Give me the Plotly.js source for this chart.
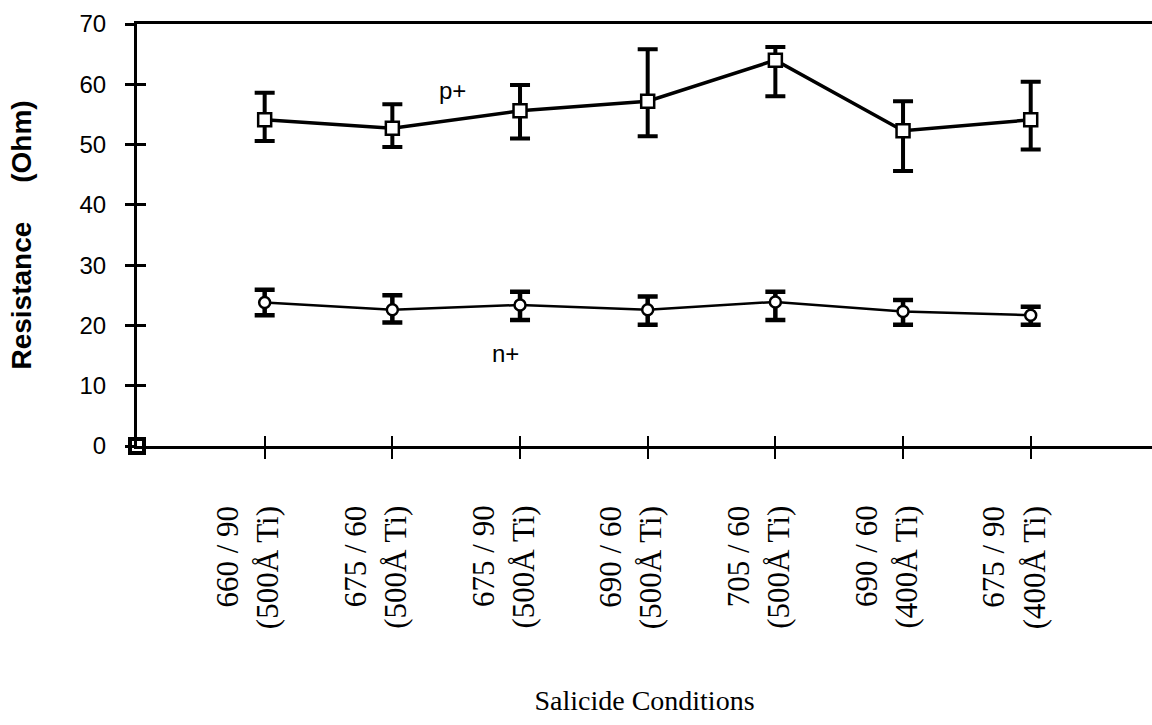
<!DOCTYPE html>
<html>
<head>
<meta charset="utf-8">
<script src="https://cdn.plot.ly/plotly-3.0.1.min.js"></script>
<style>html,body{margin:0;padding:0;background:#fff;}#chart{width:1152px;height:725px;}</style>
</head>
<body>
<div id="chart"></div>
<script>
// ---- data ----
const conditions = ['660 / 90', '675 / 60', '675 / 90', '690 / 60', '705 / 60', '690 / 60', '675 / 90'];
const tiThickness = ['(500Å Ti)', '(500Å Ti)', '(500Å Ti)', '(500Å Ti)', '(500Å Ti)', '(400Å Ti)', '(400Å Ti)'];
const pPlus     = [54.1, 52.7, 55.6, 57.2, 64.0, 52.3, 54.1];
const pPlusHigh = [58.6, 56.7, 59.9, 65.8, 66.2, 57.2, 60.4];
const pPlusLow  = [50.6, 49.6, 51.0, 51.4, 58.0, 45.6, 49.2];
const nPlus     = [23.8, 22.6, 23.4, 22.6, 23.9, 22.3, 21.7];
const nPlusHigh = [25.9, 25.0, 25.6, 24.8, 25.6, 24.2, 23.1];
const nPlusLow  = [21.7, 20.5, 20.9, 20.1, 20.9, 20.1, 20.1];
const originX = [0];
const originY = [0];
const yTicks = [0, 10, 20, 30, 40, 50, 60, 70];

// ---- build ----
const xPos = conditions.map((c, i) => i + 1);
const XR = [0, 7.95], YR = [0, 70];

const traces = [
  {
    x: xPos, y: pPlus, type: 'scatter', mode: 'lines+markers', name: 'p+',
    line: {color: '#000', width: 3.5},
    marker: {symbol: 'square', size: 13, color: '#fff', line: {color: '#000', width: 2.5}},
    error_y: {type: 'data', symmetric: false,
      array: pPlusHigh.map((h, i) => h - pPlus[i]),
      arrayminus: pPlusLow.map((l, i) => pPlus[i] - l),
      color: '#000', thickness: 4, width: 10},
    cliponaxis: false, hoverinfo: 'skip'
  },
  {
    x: xPos, y: nPlus, type: 'scatter', mode: 'lines+markers', name: 'n+',
    line: {color: '#000', width: 2.5},
    marker: {symbol: 'circle', size: 11, color: '#fff', line: {color: '#000', width: 2.5}},
    error_y: {type: 'data', symmetric: false,
      array: nPlusHigh.map((h, i) => h - nPlus[i]),
      arrayminus: nPlusLow.map((l, i) => nPlus[i] - l),
      color: '#000', thickness: 4.5, width: 10},
    cliponaxis: false, hoverinfo: 'skip'
  },
  {
    x: originX, y: originY, type: 'scatter', mode: 'markers', name: 'origin',
    marker: {symbol: 'square', size: 14, color: '#fff', line: {color: '#000', width: 4}},
    cliponaxis: false, hoverinfo: 'skip'
  },
  {
    x: [], y: [], xaxis: 'x2', yaxis: 'y2', type: 'scatter', mode: 'markers',
    hoverinfo: 'skip', showlegend: false
  }
];

const annotations = [];
conditions.forEach((c, i) => {
  annotations.push({
    x: xPos[i], xref: 'x', y: 0, yref: 'paper',
    text: c + '<br>' + tiThickness[i],
    textangle: -90, showarrow: false, align: 'right',
    xanchor: 'center', yanchor: 'top', xshift: -17, yshift: -58,
    font: {family: 'Liberation Serif, Times New Roman, serif', size: 31, color: '#000'}
  });
});
annotations.push({x: 2.47, y: 59.0, xref: 'x', yref: 'y', text: 'p+', showarrow: false,
  font: {family: 'Liberation Sans, Arial, sans-serif', size: 24, color: '#000'}});
annotations.push({x: 2.89, y: 15.3, xref: 'x', yref: 'y', text: 'n+', showarrow: false,
  font: {family: 'Liberation Sans, Arial, sans-serif', size: 24, color: '#000'}});

const layout = {
  width: 1152, height: 725,
  margin: {l: 137, r: 0, t: 24, b: 279},
  paper_bgcolor: '#fff', plot_bgcolor: '#fff',
  showlegend: false,
  font: {family: 'Liberation Sans, Arial, sans-serif', color: '#000'},
  xaxis: {
    range: XR, tickvals: xPos, ticktext: xPos.map(() => ''), showticklabels: false,
    ticks: 'outside', ticklen: 10, tickwidth: 2, tickcolor: '#000',
    showline: true, linecolor: '#000', linewidth: 3, mirror: true,
    showgrid: false, zeroline: false,
    title: {text: 'Salicide Conditions', standoff: 233,
      font: {family: 'Liberation Serif, Times New Roman, serif', size: 28, color: '#000'}}
  },
  yaxis: {
    range: YR, tickvals: yTicks, ticks: 'outside', ticklen: 9, tickwidth: 3, tickcolor: '#000',
    ticklabelstandoff: 14,
    tickfont: {family: 'Liberation Sans, Arial, sans-serif', size: 24, color: '#000'},
    showline: true, linecolor: '#000', linewidth: 3, mirror: false,
    showgrid: false, zeroline: false,
    title: {text: 'Resistance\u00a0\u00a0\u00a0\u00a0\u00a0(Ohm)', standoff: 40,
      font: {family: 'Liberation Sans, Arial, sans-serif', size: 28, color: '#000', weight: 'bold'}}
  },
  xaxis2: {
    overlaying: 'x', anchor: 'y2', range: XR, tickvals: xPos, showticklabels: false,
    ticks: 'inside', ticklen: 10, tickwidth: 2, tickcolor: '#000',
    showline: false, showgrid: false, zeroline: false
  },
  yaxis2: {
    overlaying: 'y', anchor: 'x2', range: YR, tickvals: yTicks, showticklabels: false,
    ticks: 'inside', ticklen: 9, tickwidth: 3, tickcolor: '#000',
    showline: false, showgrid: false, zeroline: false
  },
  annotations: annotations
};

Plotly.newPlot('chart', traces, layout, {displayModeBar: false, staticPlot: true});
</script>
</body>
</html>
